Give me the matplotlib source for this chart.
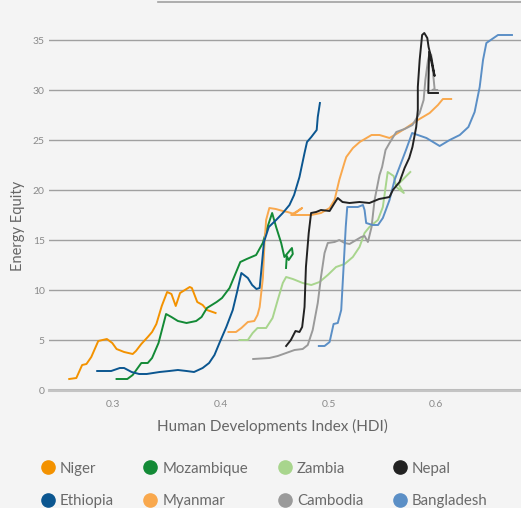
import matplotlib
matplotlib.use("Agg")
import matplotlib.pyplot as plt
from matplotlib.lines import Line2D

plt.rcParams['font.family'] = ['Lato', 'DejaVu Sans']

# HDI (x) and energy equity (y)
niger_x = [0.259, 0.2656, 0.271, 0.275, 0.2795, 0.286, 0.294, 0.299, 0.303, 0.310, 0.318, 0.321, 0.326,
           0.332, 0.336, 0.340, 0.345, 0.350, 0.354, 0.358, 0.362, 0.371, 0.373, 0.378, 0.383, 0.387, 0.395]
niger_y = [1.1, 1.2, 2.5, 2.6, 3.3, 4.9, 5.1, 4.7, 4.1, 3.8, 3.6, 3.9, 4.6,
           5.3, 5.8, 6.6, 8.4, 9.8, 9.6, 8.4, 9.7, 10.3, 10.2, 8.8, 8.5, 8.0, 7.7]

ethiopia_x = [0.285, 0.298, 0.306, 0.310, 0.317, 0.324, 0.331, 0.343, 0.352, 0.360, 0.368, 0.375, 0.383,
              0.389, 0.394, 0.399, 0.405, 0.411, 0.415, 0.419, 0.425, 0.429, 0.433, 0.436, 0.438, 0.440,
              0.4445, 0.4513, 0.4575, 0.4637, 0.468, 0.473, 0.4777, 0.480, 0.484, 0.489, 0.490, 0.492]
ethiopia_y = [1.9, 1.9, 2.2, 2.2, 1.8, 1.6, 1.6, 1.8, 1.9, 2.0, 1.9, 1.8, 2.2,
              2.7, 3.5, 4.8, 6.3, 8.0, 9.8, 11.7, 11.2, 10.5, 10.1, 10.2, 12.5, 14.8,
              16.3, 17.0, 17.7, 18.5, 19.5, 21.3, 23.7, 24.8, 25.3, 26.0, 27.3, 28.7]

mozambique_x = [0.303, 0.313, 0.318, 0.326, 0.332, 0.336, 0.342, 0.349, 0.354, 0.360, 0.368, 0.377, 0.382,
                0.387, 0.396, 0.401, 0.408, 0.413, 0.418, 0.424, 0.4327, 0.4389, 0.443, 0.4476, 0.4513,
                0.456, 0.459, 0.466, 0.4668, 0.463, 0.4612, 0.4605]
mozambique_y = [1.1, 1.1, 1.5, 2.7, 2.7, 3.2, 4.7, 7.6, 7.3, 6.9, 6.7, 6.9, 7.3,
                8.2, 8.8, 9.2, 10.2, 11.5, 12.8, 13.1, 13.5, 14.7, 16.2, 17.7, 16.3,
                14.7, 13.3, 14.2, 13.6, 13.0, 13.4, 12.2]

myanmar_x = [0.407, 0.414, 0.419, 0.425, 0.431, 0.434, 0.436, 0.439, 0.4405, 0.442, 0.445, 0.451, 0.4575,
             0.462, 0.468, 0.4755, 0.4653, 0.4838, 0.493, 0.501, 0.5056, 0.510, 0.515, 0.5165, 0.5227,
             0.529, 0.540, 0.5474, 0.5567, 0.563, 0.572, 0.583, 0.594, 0.6017, 0.6063, 0.614]
myanmar_y = [5.8, 5.8, 6.2, 6.8, 6.9, 7.5, 8.3, 11.2, 14.7, 17.0, 18.2, 18.1, 17.9,
             17.8, 17.6, 18.2, 17.5, 17.5, 17.7, 18.2, 19.0, 21.0, 22.8, 23.3, 24.2,
             24.8, 25.5, 25.5, 25.2, 25.6, 26.2, 27.0, 27.7, 28.5, 29.1, 29.1]

zambia_x = [0.4172, 0.425, 0.4295, 0.434, 0.436, 0.442, 0.448, 0.4528, 0.4575, 0.4606, 0.4668, 0.476,
            0.484, 0.4916, 0.4993, 0.507, 0.515, 0.5226, 0.5288, 0.5335, 0.538, 0.5459, 0.5505, 0.555,
            0.5605, 0.563, 0.570, 0.565, 0.576]
zambia_y = [5.0, 5.0, 5.7, 6.2, 6.2, 6.2, 7.2, 9.0, 10.7, 11.3, 11.1, 10.7,
            10.5, 10.8, 11.5, 12.3, 12.6, 13.3, 14.3, 15.7, 16.3, 17.0, 18.3, 21.8,
            21.4, 20.3, 19.7, 20.6, 21.8]

cambodia_x = [0.430, 0.445, 0.4528, 0.4606, 0.4684, 0.476, 0.4807, 0.4853, 0.490, 0.493, 0.4963, 0.4993,
              0.5056, 0.510, 0.515, 0.5195, 0.5257, 0.5304, 0.5335, 0.5366, 0.540, 0.5428, 0.5474, 0.5498,
              0.553, 0.5567, 0.563, 0.5707, 0.578, 0.5847, 0.5884, 0.590, 0.5925, 0.594, 0.5955, 0.5986,
              0.5965, 0.601]
cambodia_y = [3.1, 3.2, 3.4, 3.7, 4.0, 4.1, 4.5, 6.0, 8.7, 11.3, 13.7, 14.7,
              14.8, 15.0, 14.7, 14.6, 15.0, 15.3, 15.4, 14.8, 16.3, 19.0, 21.5, 22.3,
              24.0, 24.7, 25.8, 26.1, 26.5, 27.7, 29.0, 31.0, 33.0, 33.7, 33.5, 30.1,
              30.0, 30.0]

nepal_x = [0.4606, 0.465, 0.4693, 0.473, 0.4755, 0.4777, 0.479, 0.4816, 0.4838, 0.4885, 0.493, 0.501,
           0.5056, 0.5086, 0.513, 0.5195, 0.5288, 0.538, 0.547, 0.552, 0.5567, 0.5598, 0.566, 0.5707,
           0.575, 0.578, 0.5815, 0.583, 0.583, 0.5847, 0.587, 0.589, 0.5918, 0.593, 0.596, 0.5986,
           0.5935, 0.5927, 0.6017]
nepal_y = [4.4, 5.0, 5.9, 5.8, 6.3, 8.3, 12.3, 15.7, 17.7, 17.8, 18.0, 17.9,
           18.7, 19.2, 18.8, 18.7, 18.8, 18.7, 19.1, 19.2, 19.3, 20.0, 20.8, 22.2,
           23.2, 24.3, 26.3, 28.0, 30.3, 33.0, 35.5, 35.7, 35.2, 34.3, 33.0, 31.4,
           33.8, 29.7, 29.7]

bangladesh_x = [0.491, 0.4963, 0.501, 0.5047, 0.5086, 0.5118, 0.514, 0.516, 0.5174, 0.5273, 0.532, 0.5335,
                0.535, 0.541, 0.546, 0.5505, 0.5567, 0.5614, 0.566, 0.572, 0.5777, 0.591, 0.6033, 0.6126,
                0.622, 0.630, 0.6358, 0.6405, 0.6436, 0.6467, 0.6575, 0.6705]
bangladesh_y = [4.4, 4.4, 4.8, 6.6, 6.7, 8.0, 12.3, 16.3, 18.3, 18.3, 18.5, 18.0,
                16.7, 16.5, 16.5, 17.2, 19.0, 21.0, 22.3, 24.0, 25.7, 25.2, 24.4, 25.0,
                25.5, 26.3, 27.8, 30.3, 33.0, 34.7, 35.5, 35.5]

# legend order (column by column, 4 columns x 2 rows)
series = [
    ('Niger', niger_x, niger_y, '#f39200'),
    ('Ethiopia', ethiopia_x, ethiopia_y, '#0b5690'),
    ('Mozambique', mozambique_x, mozambique_y, '#138a36'),
    ('Myanmar', myanmar_x, myanmar_y, '#f9a84d'),
    ('Zambia', zambia_x, zambia_y, '#a8d58d'),
    ('Cambodia', cambodia_x, cambodia_y, '#9a9a9a'),
    ('Nepal', nepal_x, nepal_y, '#222222'),
    ('Bangladesh', bangladesh_x, bangladesh_y, '#5b8fc6'),
]
# draw order so darker lines sit on top like the original
draw_order = ['Niger', 'Mozambique', 'Myanmar', 'Ethiopia', 'Zambia', 'Cambodia', 'Bangladesh', 'Nepal']

bg = '#f4f4f4'
fig = plt.figure(figsize=(5.21, 5.08), dpi=100, facecolor=bg)
ax = fig.add_axes([49 / 521, (508 - 390) / 508, 1 - 49 / 521, 390 / 508])
ax.set_facecolor(bg)

lookup = {s[0]: s for s in series}
for name in draw_order:
    _, xs, ys, col = lookup[name]
    ax.plot(xs, ys, color=col, lw=1.4, solid_joinstyle='round')

ax.set_xlim(0.2402, 0.6789)
ax.set_ylim(0, 39)
ax.set_xticks([0.3, 0.4, 0.5, 0.6])
ax.set_yticks([0, 5, 10, 15, 20, 25, 30, 35])
ax.tick_params(length=0, labelsize=7.5, labelcolor='#8a8a8a', pad=3)
ax.tick_params(axis='x', pad=7)
ax.grid(axis='y', color='#a0a0a0', lw=1.0)
ax.set_axisbelow(True)
for sp in ax.spines.values():
    sp.set_visible(False)
ax.axhline(0, color='#c4c4c4', lw=2.2, clip_on=False, zorder=0)

ax.set_xlabel('Human Developments Index (HDI)', fontsize=11, color='#666666', labelpad=5)
ax.xaxis.set_label_coords((272 - 49) / 472, -0.075)
ax.set_ylabel('Energy Equity', fontsize=10.5, color='#666666')
ax.yaxis.set_label_coords(-0.05, 0.42)

# thin rule under the clipped title
fig.add_artist(Line2D([158 / 521, 1], [1 - 1.5 / 508, 1 - 1.5 / 508], color='#a0a0a0', lw=1.2))

handles = [Line2D([], [], ls='none', marker='o', markersize=9.5, color=s[3]) for s in series]
fig.legend(handles, [s[0] for s in series], ncol=4, loc='upper left',
           bbox_to_anchor=(0.051, 0.118), frameon=False, fontsize=10.8,
           labelcolor='#6a6a6a', handletextpad=0.3, columnspacing=1.95,
           labelspacing=1.25, handlelength=1.0)

fig.savefig('out.png', dpi=100, facecolor=bg)
